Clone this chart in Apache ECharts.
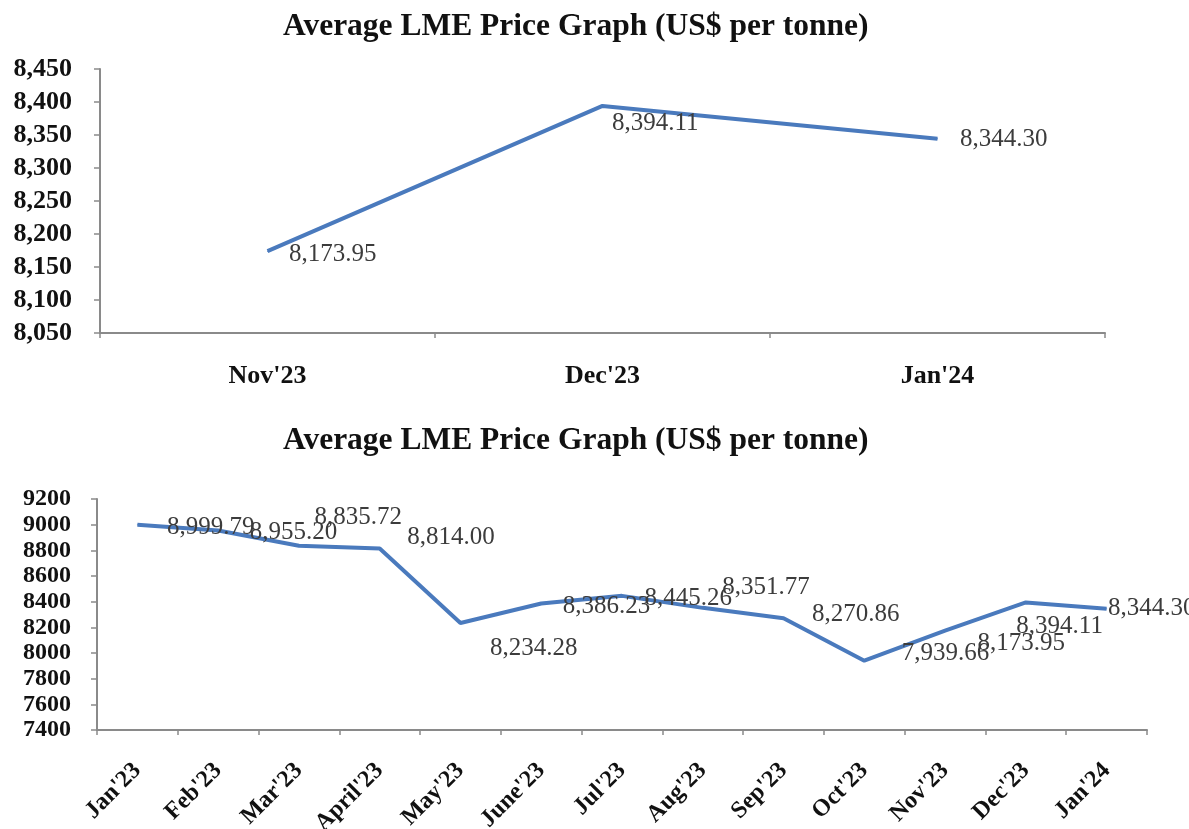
<!DOCTYPE html>
<html>
<head>
<meta charset="utf-8">
<script src="https://cdn.jsdelivr.net/npm/echarts@6/dist/echarts.min.js"></script>
<style>
  html, body { margin: 0; padding: 0; background: #ffffff; }
  #chart { width: 1189px; height: 829px; }
</style>
</head>
<body>
<div id="chart"></div>
<script>
// ---- Data ----
const titleText = "Average LME Price Graph (US$ per tonne)";

const topCategories = ["Nov'23", "Dec'23", "Jan'24"];
const topValues = [8173.95, 8394.11, 8344.30];
const topTicks = { min: 8050, max: 8450, interval: 50 };

const bottomCategories = ["Jan'23", "Feb'23", "Mar'23", "April'23", "May'23", "June'23",
  "Jul'23", "Aug'23", "Sep'23", "Oct'23", "Nov'23", "Dec'23", "Jan'24"];
const bottomValues = [8999.79, 8955.20, 8835.72, 8814.00, 8234.28, 8386.23,
  8445.26, 8351.77, 8270.86, 7939.66, 8173.95, 8394.11, 8344.30];
const bottomTicks = { min: 7400, max: 9200, interval: 200 };

// ---- Styling (label nudges relative to each point, in px) ----
const topLabelNudge = [[22, 4], [10, 18], [23, 1]];
const bottomLabelNudge = [[30, 3], [32, 3], [16, -28], [28, -11], [30, 26], [22, 4],
  [23, 3], [20, -20], [29, -3], [38, -7], [33, 13], [-9, 25], [2, 0]];

const SERIF = "'Liberation Serif', 'Times New Roman', serif";
const LINE_COLOR = '#4a7abd';
const AXIS_COLOR = '#8a8a8a';

function fmt2(v) {
  return v.toLocaleString('en-US', { minimumFractionDigits: 2, maximumFractionDigits: 2 });
}

function buildData(values, nudges) {
  return values.map((v, i) => ({
    value: v,
    label: { position: nudges[i] }
  }));
}

const chart = echarts.init(document.getElementById('chart'), null, { renderer: 'canvas' });

const axisLineStyle = { show: true, lineStyle: { color: AXIS_COLOR, width: 2 } };

const option = {
  backgroundColor: '#ffffff',
  animation: false,
  title: [
    {
      text: titleText, left: 283, top: 11, padding: 0,
      textStyle: { fontFamily: SERIF, fontWeight: 'bold', fontSize: 31.5, color: '#111' }
    },
    {
      text: titleText, left: 283, top: 425, padding: 0,
      textStyle: { fontFamily: SERIF, fontWeight: 'bold', fontSize: 31.5, color: '#111' }
    }
  ],
  grid: [
    { left: 100, top: 69, width: 1005, height: 264, containLabel: false, outerBoundsMode: 'none' },
    { left: 97, top: 499, width: 1050, height: 231, containLabel: false, outerBoundsMode: 'none' }
  ],
  xAxis: [
    {
      gridIndex: 0, type: 'category', data: topCategories, boundaryGap: true,
      axisLine: axisLineStyle,
      axisTick: { show: true, length: 5, lineStyle: { color: AXIS_COLOR, width: 1.5 } },
      axisLabel: { fontFamily: SERIF, fontWeight: 'bold', fontSize: 26, color: '#111', margin: 30 },
      splitLine: { show: false }
    },
    {
      gridIndex: 1, type: 'category', data: bottomCategories, boundaryGap: true,
      axisLine: axisLineStyle,
      axisTick: { show: true, length: 5, lineStyle: { color: AXIS_COLOR, width: 1.5 } },
      axisLabel: { fontFamily: SERIF, fontWeight: 'bold', fontSize: 24, color: '#111', rotate: 45, margin: 37, interval: 0 },
      splitLine: { show: false }
    }
  ],
  yAxis: [
    {
      gridIndex: 0, type: 'value', min: topTicks.min, max: topTicks.max, interval: topTicks.interval,
      axisLine: axisLineStyle,
      axisTick: { show: true, length: 6, lineStyle: { color: AXIS_COLOR, width: 1.5 } },
      axisLabel: {
        fontFamily: SERIF, fontWeight: 'bold', fontSize: 26, color: '#111', margin: 28,
        showMinLabel: true, showMaxLabel: true,
        formatter: v => v.toLocaleString('en-US')
      },
      splitLine: { show: false }
    },
    {
      gridIndex: 1, type: 'value', min: bottomTicks.min, max: bottomTicks.max, interval: bottomTicks.interval,
      axisLine: axisLineStyle,
      axisTick: { show: true, length: 6, lineStyle: { color: AXIS_COLOR, width: 1.5 } },
      axisLabel: {
        fontFamily: SERIF, fontWeight: 'bold', fontSize: 24, color: '#111', margin: 26,
        showMinLabel: true, showMaxLabel: true, hideOverlap: false,
        formatter: v => String(v)
      },
      splitLine: { show: false }
    }
  ],
  series: [
    {
      type: 'line', xAxisIndex: 0, yAxisIndex: 0,
      data: buildData(topValues, topLabelNudge),
      symbol: 'circle', symbolSize: 1, showSymbol: true,
      itemStyle: { color: LINE_COLOR },
      lineStyle: { color: LINE_COLOR, width: 4 },
      label: {
        show: true, align: 'left', verticalAlign: 'middle',
        fontFamily: SERIF, fontSize: 25, color: '#3c3c3c',
        formatter: p => fmt2(p.value)
      },
      labelLayout: { hideOverlap: false }
    },
    {
      type: 'line', xAxisIndex: 1, yAxisIndex: 1,
      data: buildData(bottomValues, bottomLabelNudge),
      symbol: 'circle', symbolSize: 1, showSymbol: true,
      itemStyle: { color: LINE_COLOR },
      lineStyle: { color: LINE_COLOR, width: 4 },
      label: {
        show: true, align: 'left', verticalAlign: 'middle',
        fontFamily: SERIF, fontSize: 25, color: '#3c3c3c',
        formatter: p => fmt2(p.value)
      },
      labelLayout: { hideOverlap: false }
    }
  ]
};

chart.setOption(option);
</script>
</body>
</html>
